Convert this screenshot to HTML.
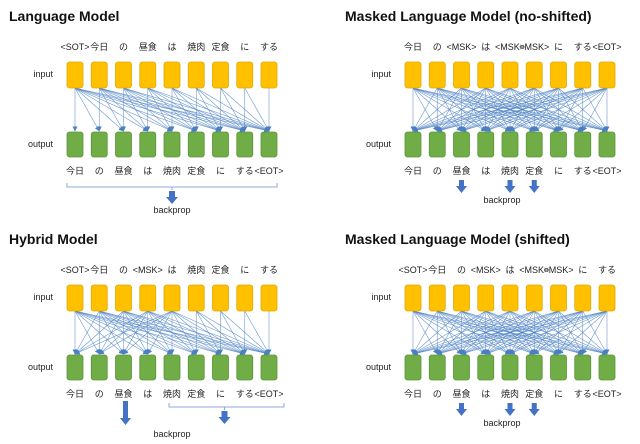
<!DOCTYPE html>
<html><head><meta charset="utf-8">
<style>
html,body{margin:0;padding:0;background:#fff;}
svg{display:block;font-family:"Liberation Sans","Noto Sans CJK JP",sans-serif;}
.t{font-weight:bold;font-size:14px;fill:#111;}
.l{font-size:9px;fill:#222;}
</style></head>
<body>
<svg id="s" width="640" height="444" viewBox="0 0 640 444">
<defs>
<marker id="ah" markerWidth="5" markerHeight="5" refX="4.5" refY="2.5" orient="auto" markerUnits="userSpaceOnUse"><path d="M0,0 L5,2.5 L0,5 z" fill="#4a7fc4"/></marker>
</defs>
<g id="g"></g>
</svg>
<script>
const panels=[
 {name:'language-model',title:'Language Model',x0:75,y0:0,tx:9,
  inTok:['<SOT>','今日','の','昼食','は','焼肉','定食','に','する'],
  outTok:['今日','の','昼食','は','焼肉','定食','に','する','<EOT>'],mode:'lm'},
 {name:'masked-lm-no-shifted',title:'Masked Language Model (no-shifted)',x0:413,y0:0,tx:345,
  inTok:['今日','の','<MSK>','は','<MSK>','<MSK>','に','する','<EOT>'],
  outTok:['今日','の','昼食','は','焼肉','定食','に','する','<EOT>'],mode:'mlm'},
 {name:'hybrid-model',title:'Hybrid Model',x0:75,y0:223,tx:9,
  inTok:['<SOT>','今日','の','<MSK>','は','焼肉','定食','に','する'],
  outTok:['今日','の','昼食','は','焼肉','定食','に','する','<EOT>'],mode:'hyb'},
 {name:'masked-lm-shifted',title:'Masked Language Model (shifted)',x0:413,y0:223,tx:345,
  inTok:['<SOT>','今日','の','<MSK>','は','<MSK>','<MSK>','に','する'],
  outTok:['今日','の','昼食','は','焼肉','定食','に','する','<EOT>'],mode:'mlm'}
];
const NS='http://www.w3.org/2000/svg';
const g=document.getElementById('g');
function el(t,a,p){const e=document.createElementNS(NS,t);for(const k in a)e.setAttribute(k,a[k]);(p||g).appendChild(e);return e;}
function txt(x,y,s,cls,anchor,p){const e=el('text',{x:x,y:y,class:cls,'text-anchor':anchor||'middle'},p);e.textContent=s;return e;}
const SP=24.25;
function arrow(p,cx,y1,y2,w){
 const a=el('path',{d:`M${cx-w/2},${y1} h${w} v${y2-y1-6} h3 l${-w/2-3},7 l${-w/2-3},-7 h3 z`,fill:'#4472c4'},p);
 
 
}
panels.forEach(P=>{
 const p=el('g',{});
 
 
 const y=P.y0;
 const T=txt(P.tx,y+21,P.title,'t','start',p);
 
 
 txt(P.x0-22,y+77,'input','l','end',p);
 txt(P.x0-22,y+147,'output','l','end',p);
 const xs=P.inTok.map((_,i)=>P.x0+i*SP);
 const lines=el('g',{stroke:'#4a7fc4','stroke-width':0.6,'stroke-opacity':0.8},p);
 
 
 xs.forEach((xi,i)=>xs.forEach((xj,j)=>{
   let ok=P.mode==='mlm'||(P.mode==='lm'&&j>=i)||(P.mode==='hyb'&&(i<=4||j>=i));
   if(ok){el('line',{x1:xi,y1:y+88,x2:xj,y2:y+131,'marker-end':'url(#ah)'},lines);}
 }));
 xs.forEach((x,i)=>{
   const a=el('rect',{x:x-8,y:y+62,width:16,height:26,rx:2.5,fill:'#ffc000',stroke:'#e0a800','stroke-width':0.8},p);
   
   
   const b=el('rect',{x:x-8,y:y+132,width:16,height:25,rx:2.5,fill:'#70ad47',stroke:'#5a9438','stroke-width':0.8},p);
   
   
   txt(x,y+50,P.inTok[i],'l','middle',p);
   txt(x,y+174,P.outTok[i],'l','middle',p);
 });
 if(P.mode==='lm'){
   el('path',{d:`M${xs[0]-8},${y+183} v4 h${xs[8]-xs[0]+16} v-4 M${(xs[0]+xs[8])/2},${y+187} v3`,fill:'none',stroke:'#8faadc','stroke-width':1},p);
   arrow(p,(xs[0]+xs[8])/2,y+191,y+203,6);
   txt((xs[0]+xs[8])/2,y+213,'backprop','l','middle',p);
 } else if(P.mode==='hyb'){
   arrow(p,xs[2]+2,y+178,y+201,5);
   el('path',{d:`M${xs[4]-3},${y+180} v4 h${xs[8]-xs[4]+18} v-4 M${(xs[4]+xs[8])/2+4},${y+184} v3`,fill:'none',stroke:'#8faadc','stroke-width':1},p);
   arrow(p,(xs[4]+xs[8])/2+4,y+188,y+200,6);
   txt(172,y+214,'backprop','l','middle',p);
 } else {
   [2,4,5].forEach(k=>arrow(p,xs[k],y+180,y+192,5));
   txt(xs[4]-8,y+203,'backprop','l','middle',p);
 }
});
</script>
</body></html>
